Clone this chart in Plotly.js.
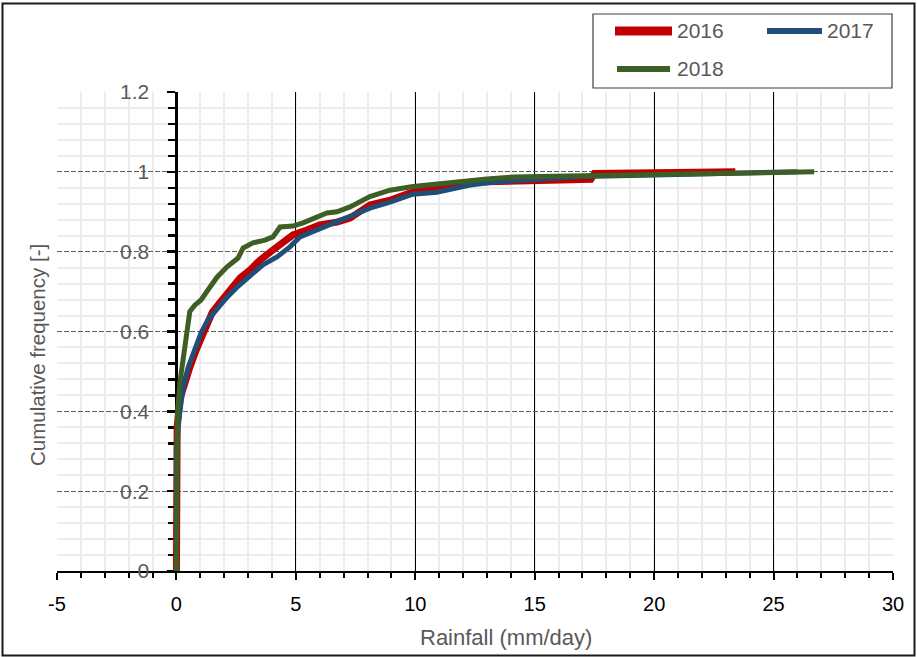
<!DOCTYPE html>
<html>
<head>
<meta charset="utf-8">
<script src="https://cdn.plot.ly/plotly-3.0.1.min.js"></script>
<style>
  html, body { margin: 0; padding: 0; background: #ffffff; }
  #chart { width: 917px; height: 657px; }
</style>
</head>
<body>
<div id="chart"></div>
<script>
// Cumulative frequency of daily rainfall, one curve per year
const years = ['2016', '2017', '2018'];

const rain2016 = [0, 0, 0.03, 0.14, 0.32, 0.56, 0.83, 1.11, 1.39, 1.5, 1.8, 2.24, 2.66, 3.08, 3.5, 4.04, 4.46, 4.88, 5.46, 6.0, 6.72, 7.27, 8.1, 8.94, 9.9, 10.9, 11.87, 13.0, 14.1, 15.1, 17.0, 17.35, 17.5, 20.0, 23.4];
const freq2016 = [0, 0.28, 0.36, 0.43, 0.47, 0.51, 0.554, 0.596, 0.636, 0.648, 0.671, 0.704, 0.734, 0.754, 0.779, 0.804, 0.822, 0.842, 0.854, 0.867, 0.874, 0.884, 0.917, 0.929, 0.950, 0.962, 0.971, 0.975, 0.976, 0.977, 0.979, 0.981, 0.996, 0.998, 1.0];

const rain2017 = [0, 0, 0.08, 0.2, 0.28, 0.49, 0.78, 1.03, 1.32, 1.66, 2.12, 2.54, 3.08, 3.62, 4.21, 4.75, 5.17, 5.89, 6.43, 7.27, 8.1, 8.94, 9.9, 10.9, 11.7, 12.3, 13.4, 15.1, 17.0, 20.0, 23.5, 26.0];
const freq2017 = [0, 0.30, 0.37, 0.42, 0.46, 0.51, 0.554, 0.596, 0.629, 0.654, 0.686, 0.711, 0.741, 0.767, 0.787, 0.812, 0.837, 0.854, 0.867, 0.887, 0.909, 0.924, 0.944, 0.949, 0.959, 0.967, 0.975, 0.982, 0.988, 0.992, 0.996, 1.0];

const rain2018 = [0, 0, 0.04, 0.14, 0.23, 0.35, 0.46, 0.56, 0.77, 1.03, 1.32, 1.70, 2.12, 2.58, 2.79, 3.2, 3.71, 4.04, 4.34, 4.88, 5.3, 5.89, 6.3, 6.72, 7.27, 8.1, 8.94, 9.9, 10.9, 11.87, 13.0, 14.09, 15.1, 17.0, 19.0, 23.0, 26.7];
const freq2018 = [0, 0.30, 0.386, 0.47, 0.51, 0.571, 0.611, 0.65, 0.666, 0.679, 0.704, 0.736, 0.762, 0.784, 0.809, 0.822, 0.829, 0.837, 0.862, 0.864, 0.872, 0.885, 0.897, 0.90, 0.912, 0.938, 0.954, 0.963, 0.969, 0.977, 0.982, 0.987, 0.989, 0.990, 0.992, 0.995, 1.0];

const xTickVals = [-5, 0, 5, 10, 15, 20, 25, 30];
const xTickText = ['-5', '0', '5', '10', '15', '20', '25', '30'];

const xTitle = 'Rainfall (mm/day)';
const yTitle = 'Cumulative frequency [-]';

const seriesX = [rain2016, rain2017, rain2018];
const seriesY = [freq2016, freq2017, freq2018];
const colors = ['#C00000', '#1F4E79', '#3D5E25'];
const widths = [7, 5, 5];
const legendWidths = [9, 6, 6];

// Plot-area geometry in pixels
const W = 917, H = 657;
const L = 57, R = 893, T = 92, B = 571;
const px = x => (x - L) / (R - L);
const py = y => (B - y) / (B - T);

const baseFont = 'Liberation Sans, Arial, sans-serif';

const traces = years.map((yr, i) => ({
  type: 'scatter',
  mode: 'lines',
  name: yr,
  x: seriesX[i],
  y: seriesY[i],
  line: { color: colors[i], width: widths[i] },
  showlegend: false,
  hoverinfo: 'skip'
}));

// Legend box: two entries on the first row, one on the second
const legendRows = [
  { x0: 615, x1: 672, tx: 675, y: 31 },
  { x0: 767, x1: 822, tx: 825, y: 31 },
  { x0: 617, x1: 670, tx: 675, y: 69 }
];

const shapes = [
  // outer frame
  { type: 'rect', xref: 'paper', yref: 'paper',
    x0: px(2.5), x1: px(914.5), y0: py(655.5), y1: py(3.5),
    line: { color: '#1a1a1a', width: 2 }, fillcolor: 'rgba(0,0,0,0)', layer: 'above' },
  // legend box
  { type: 'rect', xref: 'paper', yref: 'paper',
    x0: px(593), x1: px(892), y0: py(88), y1: py(14),
    line: { color: '#404040', width: 1.2 }, fillcolor: '#ffffff', layer: 'above' }
];
const annotations = [
  { xref: 'paper', yref: 'paper', x: px(506), y: py(637), text: xTitle, showarrow: false,
    xanchor: 'center', yanchor: 'middle', font: { family: baseFont, size: 22, color: '#595959' } },
  { xref: 'paper', yref: 'paper', x: px(37), y: py(355), text: yTitle, showarrow: false, textangle: -90,
    xanchor: 'center', yanchor: 'middle', font: { family: baseFont, size: 20.5, color: '#595959' } }
];
years.forEach((yr, i) => {
  const r = legendRows[i];
  shapes.push({ type: 'line', xref: 'paper', yref: 'paper',
    x0: px(r.x0), x1: px(r.x1), y0: py(r.y), y1: py(r.y),
    line: { color: colors[i], width: legendWidths[i] }, layer: 'above' });
  annotations.push({ xref: 'paper', yref: 'paper', x: px(r.tx), y: py(r.y), text: yr, showarrow: false,
    xanchor: 'left', yanchor: 'middle', font: { family: baseFont, size: 21, color: '#595959' } });
});

const layout = {
  width: W, height: H,
  margin: { l: L, r: W - R, t: T, b: H - B, pad: 0 },
  paper_bgcolor: '#ffffff',
  plot_bgcolor: '#ffffff',
  showlegend: false,
  xaxis: {
    range: [-5, 30],
    tickmode: 'array', tickvals: xTickVals, ticktext: xTickText,
    showgrid: true, gridcolor: '#000000', gridwidth: 1,
    zeroline: false,
    showline: true, linecolor: '#000000', linewidth: 2,
    ticks: 'outside', ticklen: 7, tickwidth: 2, tickcolor: '#000000',
    ticklabelstandoff: 7,
    tickfont: { family: baseFont, size: 20, color: '#000000' },
    minor: { dtick: 1, tick0: 0, showgrid: true, gridcolor: '#ececec', gridwidth: 2, griddash: 'solid',
             ticks: 'outside', ticklen: 5, tickwidth: 2, tickcolor: '#000000' },
    layer: 'below traces',
    fixedrange: true
  },
  yaxis: {
    range: [0, 1.2], dtick: 0.2, tick0: 0,
    anchor: 'free', position: 5 / 35,
    showgrid: true, gridcolor: '#5e5e5e', gridwidth: 1, griddash: '5px,2px',
    zeroline: false,
    showline: true, linecolor: '#000000', linewidth: 2.5,
    ticks: 'outside', ticklen: 8, tickwidth: 2.5, tickcolor: '#000000',
    ticklabelstandoff: 14,
    tickfont: { family: baseFont, size: 21, color: '#595959' },
    minor: { dtick: 0.04, tick0: 0, showgrid: true, gridcolor: '#ececec', gridwidth: 2, griddash: 'solid',
             ticks: 'outside', ticklen: 7, tickwidth: 2.5, tickcolor: '#000000' },
    layer: 'below traces',
    fixedrange: true
  },
  shapes: shapes,
  annotations: annotations
};

Plotly.newPlot('chart', traces, layout, { displayModeBar: false, staticPlot: true });
</script>
</body>
</html>
